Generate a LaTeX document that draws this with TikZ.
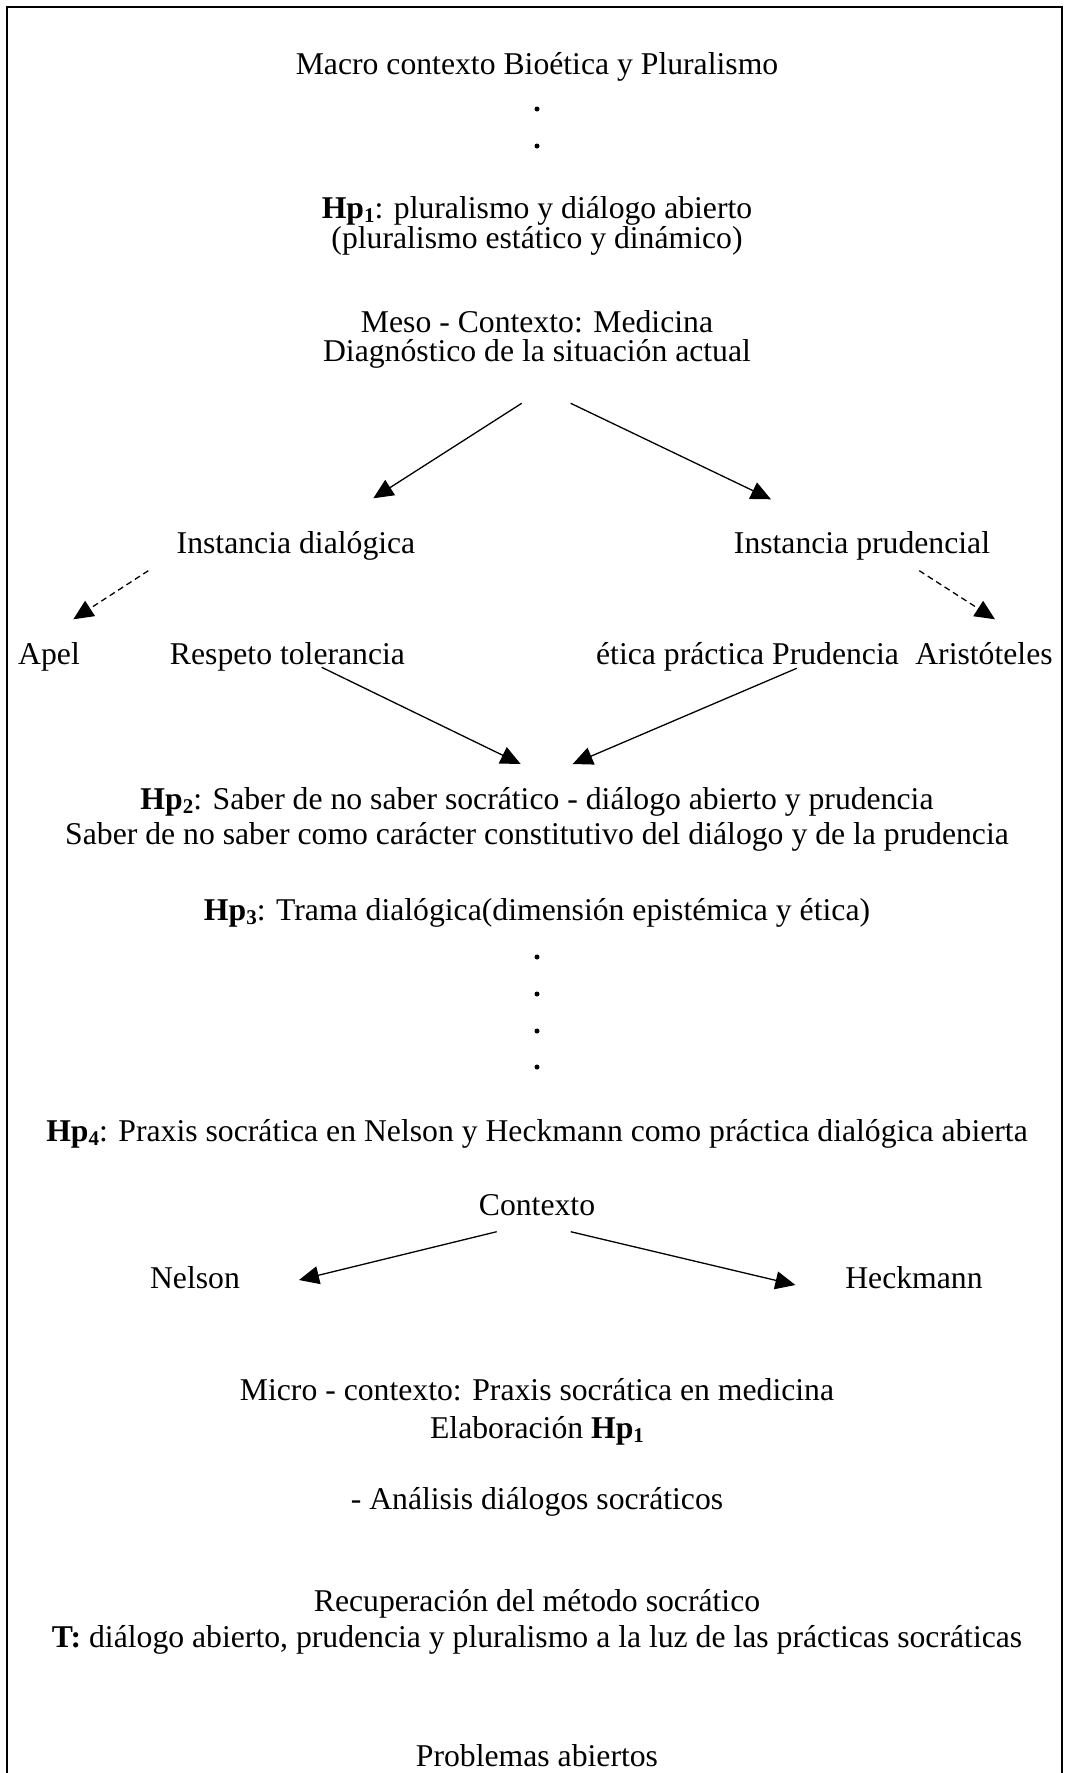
\documentclass[tikz,border=0pt]{standalone}
\usepackage{fontspec}
\setmainfont{Liberation Serif}
\usetikzlibrary{arrows.meta,calc}
% bold "Hp" with a lowered index
\newcommand\hpsub[1]{\raisebox{-4.5pt}{\fontsize{21}{21}\selectfont #1}}
\newcommand\hpl[1]{\textbf{Hp\hpsub{#1}}}
\begin{document}
\begin{tikzpicture}[x=1pt,y=-1pt,
  txt/.style={anchor=base,inner sep=0pt,font=\fontsize{31.7}{36}\selectfont},
  arr/.style={line width=1.3pt,-{Triangle[length=20pt,width=18pt]}},
  darr/.style={arr,dash pattern=on 6pt off 4pt},
  dotmark/.style={circle,fill,inner sep=0pt,minimum size=5pt}]
\useasboundingbox (0,0) rectangle (1066,1773);
% open frame
\begin{scope}
  \clip (0,0) rectangle (1066,1773);
  \draw[line width=2pt] (7,1800) -- (7,7) -- (1062,7) -- (1062,1800);
\end{scope}

% macro level
\node[txt] (macro) at (537,74) {Macro contexto Bioética y Pluralismo};
\node[dotmark] (d1) at (537,109) {};
\node[dotmark] (d2) at (537,146) {};
\node[txt] (hp1a) at (537,218) {\hpl{1}: pluralismo y diálogo abierto};
\node[txt] (hp1b) at (537,248) {(pluralismo estático y dinámico)};

% meso level
\node[txt] (meso) at (537,332) {Meso - Contexto: Medicina};
\node[txt] (diag) at (537,361) {Diagnóstico de la situación actual};

\node[txt] (idial) at (296,553) {Instancia dialógica};
\node[txt] (ipru) at (862,553) {Instancia prudencial};

\node[txt,anchor=base west] (apel) at (18,664) {Apel};
\node[txt] (resp) at (287.5,664) {Respeto tolerancia};
\node[txt] (etica) at (747.5,664) {ética práctica Prudencia};
\node[txt] (arist) at (984,664) {Aristóteles};

\node[txt] (hp2a) at (537,809) {\hpl{2}: Saber de no saber socrático - diálogo abierto y prudencia};
\node[txt] (hp2b) at (537,844) {Saber de no saber como carácter constitutivo del diálogo y de la prudencia};

\node[txt] (hp3) at (537,920) {\hpl{3}: Trama dialógica(dimensión epistémica y ética)};
\node[dotmark] (d3) at (537,957) {};
\node[dotmark] (d4) at (537,994) {};
\node[dotmark] (d5) at (537,1031) {};
\node[dotmark] (d6) at (537,1067) {};

\node[txt] (hp4) at (537,1141) {\hpl{4}: Praxis socrática en Nelson y Heckmann como práctica dialógica abierta};

\node[txt] (ctx) at (537,1215) {Contexto};
\node[txt] (nelson) at (195,1288) {Nelson};
\node[txt] (heck) at (914,1288) {Heckmann};

% micro level
\node[txt] (micro) at (537,1400) {Micro - contexto: Praxis socrática en medicina};
\node[txt] (elab) at (537,1438) {Elaboración \hpl{1}};
\node[txt] (anal) at (537,1509) {- Análisis diálogos socráticos};
\node[txt] (recup) at (537,1611) {Recuperación del método socrático};
\node[txt] (tesis) at (537,1647) {\textbf{T:} diálogo abierto, prudencia y pluralismo a la luz de las prácticas socráticas};
\node[txt] (probl) at (537,1766) {Problemas abiertos};

% connector ends
\coordinate (diagL) at (521.7,403.3);
\coordinate (diagR) at (570.7,403.3);
\coordinate (idialIn) at (373.3,498.3);
\coordinate (ipruIn) at (771,499.3);
\coordinate (idialOut) at (148.3,570.7);
\coordinate (apelIn) at (73.3,619.3);
\coordinate (ipruOut) at (919.3,570.7);
\coordinate (aristIn) at (995,619.3);
\coordinate (respOut) at (321.7,667.3);
\coordinate (eticaOut) at (796.7,668.3);
\coordinate (hp2L) at (520.7,764);
\coordinate (hp2R) at (572.7,764);
\coordinate (ctxL) at (496.7,1231.7);
\coordinate (ctxR) at (570.7,1231.7);
\coordinate (nelsonIn) at (299,1280);
\coordinate (heckIn) at (795.4,1285);

\draw[arr] (diagL) -- (idialIn);
\draw[arr] (diagR) -- (ipruIn);
\draw[darr] (idialOut) -- (apelIn);
\draw[darr] (ipruOut) -- (aristIn);
\draw[arr] (respOut) -- (hp2L);
\draw[arr] (eticaOut) -- (hp2R);
\draw[arr] (ctxL) -- (nelsonIn);
\draw[arr] (ctxR) -- (heckIn);
\end{tikzpicture}
\end{document}
